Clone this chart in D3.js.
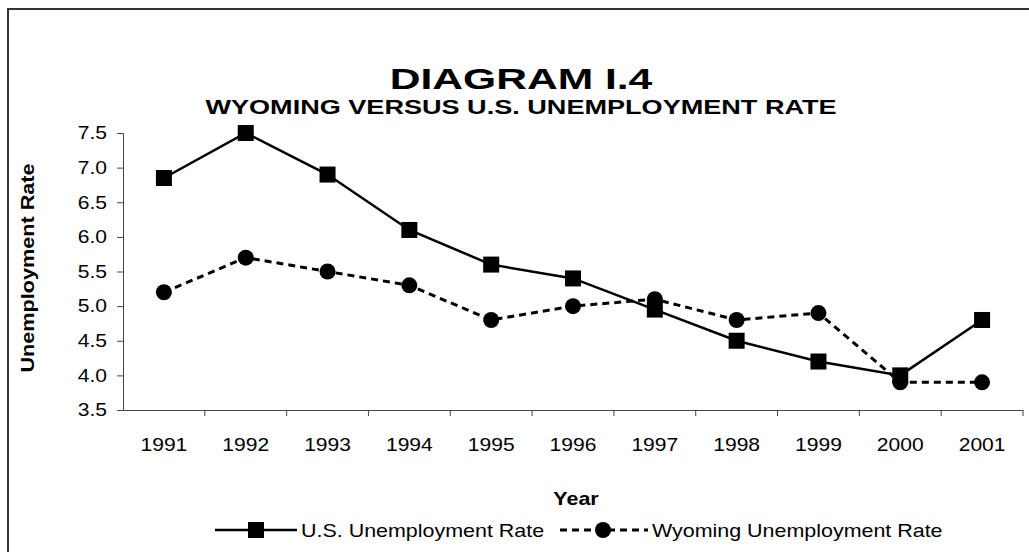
<!DOCTYPE html>
<html>
<head>
<meta charset="utf-8">
<script src="https://cdn.jsdelivr.net/npm/d3@7"></script>
<style>
  body { margin: 0; background: #fff; }
  text { font-family: Arial, "Liberation Sans", sans-serif; fill: #000; }
</style>
</head>
<body>
<div id="chart"></div>
<script>
// chart data
var years = ["1991","1992","1993","1994","1995","1996","1997","1998","1999","2000","2001"];
var usRate = [6.85, 7.5, 6.9, 6.1, 5.6, 5.4, 4.95, 4.5, 4.2, 4.0, 4.8];
var wyRate = [5.2, 5.7, 5.5, 5.3, 4.8, 5.0, 5.1, 4.8, 4.9, 3.9, 3.9];
var yTicks = [3.5, 4.0, 4.5, 5.0, 5.5, 6.0, 6.5, 7.0, 7.5];
var seriesNames = ["U.S. Unemployment Rate", "Wyoming Unemployment Rate"];

var W = 1029, H = 552;
var margin = {top: 133, right: 6, bottom: 142, left: 123},
    width = W - margin.left - margin.right,
    height = H - margin.top - margin.bottom;

// the original text is drawn a bit wide, so stretch glyphs sideways
var SX = 1.16;

function wide(sel, sx) {
    sel.each(function() {
        var t = d3.select(this),
            tx = +t.attr("x") || 0,
            ty = +t.attr("y") || 0;
        t.attr("x", null).attr("y", null)
         .attr("transform", "translate(" + tx + "," + ty + ") scale(" + sx + ",1)");
    });
}

var svg = d3.select("#chart").append("svg")
    .attr("width", W)
    .attr("height", H);

// outer frame (only top/left visible in the picture)
svg.append("rect")
    .attr("x", 8).attr("y", 9)
    .attr("width", W + 20).attr("height", H + 20)
    .attr("fill", "none")
    .attr("stroke", "#333")
    .attr("stroke-width", 2);

var g = svg.append("g")
    .attr("transform", "translate(" + margin.left + "," + margin.top + ")");

var x = d3.scaleBand().domain(years).range([0, width]);
var y = d3.scaleLinear().domain([3.5, 7.5]).range([height, 0]);

var yAxis = g.append("g")
    .call(d3.axisLeft(y).tickValues(yTicks).tickFormat(d3.format(".1f")).tickSize(6).tickPadding(10));
var xAxis = g.append("g")
    .attr("transform", "translate(0," + height + ")")
    .call(d3.axisBottom(x).tickSize(0).tickPadding(28));

// category boundary ticks
xAxis.selectAll(".sep")
    .data(years)
    .enter().append("line")
    .attr("x1", function(d) { return x(d) + x.bandwidth(); })
    .attr("x2", function(d) { return x(d) + x.bandwidth(); })
    .attr("y1", 0).attr("y2", 6)
    .attr("stroke", "#444");

[yAxis, xAxis].forEach(function(a) {
    a.select(".domain").attr("stroke", "#444");
    a.selectAll(".tick line").attr("stroke", "#444");
    a.selectAll("text").style("font-size", "18px").style("font-family", "Arial, 'Liberation Sans', sans-serif");
    wide(a.selectAll("text"), 1.17);
});

var cx = function(d, i) { return x(years[i]) + x.bandwidth() / 2; };

var line = d3.line()
    .x(function(d, i) { return cx(d, i); })
    .y(function(d) { return y(d); });

// Wyoming (dashed, circles)
g.append("path")
    .datum(wyRate)
    .attr("d", line)
    .attr("fill", "none")
    .attr("stroke", "#000")
    .attr("stroke-width", 3)
    .attr("stroke-dasharray", "7,5");

// US (solid, squares)
g.append("path")
    .datum(usRate)
    .attr("d", line)
    .attr("fill", "none")
    .attr("stroke", "#000")
    .attr("stroke-width", 2.5);

g.selectAll(".sq")
    .data(usRate)
    .enter().append("rect")
    .attr("x", function(d, i) { return cx(d, i) - 8; })
    .attr("y", function(d) { return y(d) - 8; })
    .attr("width", 16).attr("height", 16)
    .attr("fill", "#000");

g.selectAll(".dot")
    .data(wyRate)
    .enter().append("circle")
    .attr("cx", cx)
    .attr("cy", function(d) { return y(d); })
    .attr("r", 8)
    .attr("fill", "#000");

// titles
svg.append("text")
    .attr("x", 521).attr("y", 89)
    .attr("text-anchor", "middle")
    .style("font-size", "30px").style("font-weight", "bold")
    .text("DIAGRAM I.4")
    .call(wide, 1.42);
svg.append("text")
    .attr("x", 521).attr("y", 114)
    .attr("text-anchor", "middle")
    .style("font-size", "21px").style("font-weight", "bold")
    .text("WYOMING VERSUS U.S. UNEMPLOYMENT RATE")
    .call(wide, 1.29);

svg.append("text")
    .attr("transform", "translate(34,268) rotate(-90) scale(1.17,1)")
    .attr("text-anchor", "middle")
    .style("font-size", "18.5px").style("font-weight", "bold")
    .text("Unemployment Rate");

svg.append("text")
    .attr("x", 576).attr("y", 505)
    .attr("text-anchor", "middle")
    .style("font-size", "18.5px").style("font-weight", "bold")
    .text("Year")
    .call(wide, SX);

// legend
var legend = svg.append("g").attr("transform", "translate(0,530)");
legend.append("line").attr("x1", 215).attr("x2", 297).attr("y1", 0).attr("y2", 0)
    .attr("stroke", "#000").attr("stroke-width", 2.5);
legend.append("rect").attr("x", 248).attr("y", -8).attr("width", 16).attr("height", 16).attr("fill", "#000");
legend.append("text").attr("x", 301).attr("y", 7).style("font-size", "18.5px").text(seriesNames[0])
    .call(wide, SX);

legend.append("line").attr("x1", 560).attr("x2", 648).attr("y1", 0).attr("y2", 0)
    .attr("stroke", "#000").attr("stroke-width", 3).attr("stroke-dasharray", "7,5");
legend.append("circle").attr("cx", 603).attr("cy", 0).attr("r", 8).attr("fill", "#000");
legend.append("text").attr("x", 652).attr("y", 7).style("font-size", "18.5px").text(seriesNames[1])
    .call(wide, SX);
</script>
</body>
</html>
